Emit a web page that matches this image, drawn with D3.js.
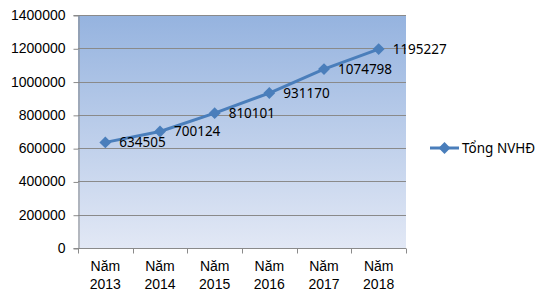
<!DOCTYPE html>
<html>
<head>
<meta charset="utf-8">
<script src="https://cdn.jsdelivr.net/npm/d3@7"></script>
<style>
  body { margin: 0; background: #fff; }
  .tick text { font-family: "Liberation Sans", Arial, sans-serif; font-size: 14px; fill: #000; }
  .data-label, .legend-label { font-family: "Noto Sans", sans-serif; font-size: 13.5px; fill: #000; }
</style>
</head>
<body>
<div id="chart-container"><svg></svg></div>
<script>
const years = ["2013", "2014", "2015", "2016", "2017", "2018"];
const values = [634505, 700124, 810101, 931170, 1074798, 1195227];
const yTicks = [0, 200000, 400000, 600000, 800000, 1000000, 1200000, 1400000];
const seriesName = "Tổng NVHĐ";

const chartSize = {width: 550, height: 298};
const plot = {left: 78, right: 406, top: 15, bottom: 248};
const lineColor = "#4a7ebb";

const svg = d3.select("#chart-container svg")
  .attr("width", chartSize.width)
  .attr("height", chartSize.height);

const defs = svg.append("defs");
const grad = defs.append("linearGradient")
  .attr("id", "bg")
  .attr("x1", 0).attr("y1", 0).attr("x2", 0).attr("y2", 1);
grad.append("stop").attr("offset", "0%").attr("stop-color", "#95b3df");
grad.append("stop").attr("offset", "100%").attr("stop-color", "#e2e8f5");

const x = d3.scaleBand()
  .domain(years)
  .range([plot.left, plot.right]);

const y = d3.scaleLinear()
  .domain([0, 1400000])
  .range([plot.bottom, plot.top]);

svg.append("rect")
  .attr("x", plot.left)
  .attr("y", plot.top)
  .attr("width", plot.right - plot.left)
  .attr("height", plot.bottom - plot.top)
  .attr("fill", "url(#bg)");

// gridlines
svg.append("g")
  .selectAll("line")
  .data(yTicks.filter(d => d > 0))
  .join("line")
  .attr("x1", plot.left)
  .attr("x2", plot.right)
  .attr("y1", d => Math.round(y(d)) + 0.5)
  .attr("y2", d => Math.round(y(d)) + 0.5)
  .attr("stroke", "#8a8a8a")
  .attr("stroke-width", 1);

// y axis
const yAxis = d3.axisLeft(y)
  .tickValues(yTicks)
  .tickFormat(d => d)
  .tickSize(5)
  .tickPadding(8);
const yg = svg.append("g")
  .attr("transform", `translate(${plot.left + 0.5},0)`)
  .call(yAxis);
yg.selectAll("line, path").attr("stroke", "#8a8a8a");
yg.selectAll(".tick line").attr("transform", "translate(0,0.5)");

// x axis
const xg = svg.append("g")
  .attr("transform", `translate(0,${plot.bottom + 0.5})`);
xg.append("line")
  .attr("x1", plot.left).attr("x2", plot.right)
  .attr("stroke", "#8a8a8a");
xg.selectAll(".xtick")
  .data(years.concat([null]))
  .join("line")
  .attr("class", "xtick")
  .attr("x1", (d, i) => Math.round(i < years.length ? x(d) : plot.right) + 0.5)
  .attr("x2", (d, i) => Math.round(i < years.length ? x(d) : plot.right) + 0.5)
  .attr("y1", 0).attr("y2", 5)
  .attr("stroke", "#8a8a8a");
const xl = xg.selectAll(".tick")
  .data(years)
  .join("g")
  .attr("class", "tick")
  .attr("transform", d => `translate(${x(d) + x.bandwidth() / 2},0)`);
xl.append("text")
  .attr("text-anchor", "middle")
  .attr("y", 22)
  .text("Năm");
xl.append("text")
  .attr("text-anchor", "middle")
  .attr("y", 40)
  .text(d => d);

// series
const pts = years.map((yr, i) => ({yr, v: values[i]}));
const line = d3.line()
  .x(d => x(d.yr) + x.bandwidth() / 2)
  .y(d => y(d.v));

svg.append("path")
  .attr("d", line(pts))
  .attr("fill", "none")
  .attr("stroke", lineColor)
  .attr("stroke-width", 3)
  .attr("stroke-linejoin", "round");

const diamond = d3.symbol().type(d3.symbolDiamond2).size(90);
svg.append("g")
  .selectAll("path")
  .data(pts)
  .join("path")
  .attr("d", diamond)
  .attr("transform", d => `translate(${x(d.yr) + x.bandwidth() / 2},${y(d.v)})`)
  .attr("fill", lineColor);

svg.append("g")
  .selectAll("text")
  .data(pts)
  .join("text")
  .attr("class", "data-label")
  .attr("x", d => x(d.yr) + x.bandwidth() / 2 + 14)
  .attr("y", d => y(d.v) + 5)
  .text(d => d.v);

// legend
const lg = svg.append("g").attr("transform", "translate(430,148)");
lg.append("line")
  .attr("x1", 0).attr("x2", 29)
  .attr("stroke", lineColor)
  .attr("stroke-width", 3);
lg.append("path")
  .attr("d", diamond)
  .attr("transform", "translate(14.5,0)")
  .attr("fill", lineColor);
lg.append("text")
  .attr("class", "legend-label")
  .attr("x", 32)
  .attr("y", 5)
  .text(seriesName);
</script>
</body>
</html>
